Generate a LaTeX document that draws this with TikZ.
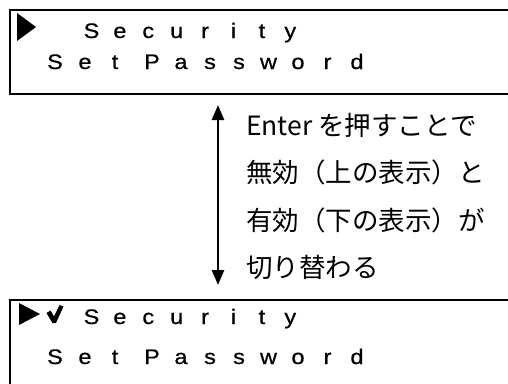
\documentclass[tikz,border=0pt]{standalone}
\usepackage{fontspec}
\setmainfont{Liberation Sans}
\newfontfamily\lcdfont[FakeBold=0.6]{Liberation Sans}
\newfontfamily\jpfont{Noto Sans CJK JP}
\usetikzlibrary{arrows.meta}
\newcommand\lcdchar[1]{\scalebox{1.12}[1]{#1}}
\begin{document}
\begin{tikzpicture}[x=1pt,y=-1pt,
  lcd/.style={font=\lcdfont\fontsize{21}{24}\selectfont, inner sep=0pt, anchor=base},
  jptext/.style={font=\jpfont\fontsize{26.5}{30}\selectfont, inner sep=0pt, anchor=base west},
  frame/.style={line width=2pt, line cap=rect},
  toggle/.style={line width=2.5pt, {Triangle[width=12pt,length=15pt]}-{Triangle[width=12pt,length=15pt]}}]
\useasboundingbox (0,0) rectangle (508,383);
% top display
\draw[frame] (509,10) -- (10,10) -- (10,94) -- (509,94);
\fill (17,13) -- (36,27) -- (17,41) -- cycle;
\foreach \c [count=\i from 0] in {S,e,c,u,r,i,t,y}
  \node[lcd] (ts\i) at ({91.5+28.4*\i},38) {\lcdchar{\c}};
\foreach \c/\x [count=\i from 0] in {S/55,e/85,t/115,P/152,a/181,s/210,s/239,w/268.5,o/298,r/327.5,d/357}
  \node[lcd] (tp\i) at (\x,69) {\lcdchar{\c}};
% arrow and explanation
\coordinate (atop) at (218,105);
\coordinate (abot) at (218,285);
\draw[toggle] (atop) -- (abot);
\node[jptext] (l1) at (246,135) {Enter を押すことで};
\node[jptext] (l2) at (246,182) {無効（上の表示）と};
\node[jptext] (l3) at (246,230) {有効（下の表示）が};
\node[jptext] (l4) at (246,277) {切り替わる};
% bottom display
\draw[frame] (509,300) -- (10,300) -- (10,384);
\fill (19,303) -- (40,314) -- (19,325) -- cycle;
\fill (46.5,313) -- (50.5,310.5) -- (54,316.5) -- (59.5,305) -- (63.5,306.5) -- (56,323) -- (52.5,323) -- cycle;
\foreach \c [count=\i from 0] in {S,e,c,u,r,i,t,y}
  \node[lcd] (bs\i) at ({91.5+28.4*\i},324) {\lcdchar{\c}};
\foreach \c/\x [count=\i from 0] in {S/55,e/85,t/115,P/152,a/181,s/210,s/239,w/268.5,o/298,r/327.5,d/357}
  \node[lcd] (bp\i) at (\x,364) {\lcdchar{\c}};
\end{tikzpicture}
\end{document}
